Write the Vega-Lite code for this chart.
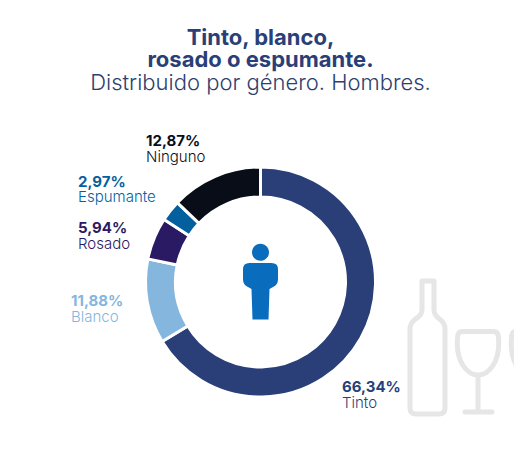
{
"$schema":"https://vega.github.io/schema/vega-lite/v6.json",
"autosize":{"type":"none"},
"padding":{"left":7,"top":95,"right":0,"bottom":0},
"width":507,"height":374,
"background":"white",
"view":{"stroke":null},
"title":{"text":["Tinto, blanco,","rosado o espumante."],"subtitle":"Distribuido por género. Hombres.","anchor":"middle","font":"Inter","fontSize":22,"fontWeight":700,"color":"#2a3f78","lineHeight":22,"subtitleFont":"Inter","subtitleFontSize":22,"subtitleFontWeight":300,"subtitleColor":"#2e3f6e","subtitlePadding":1,"offset":0},
"data":{"values":[
{"cat":"Tinto","rank":1,"value":66.34,"label":"66,34%"},
{"cat":"Blanco","rank":2,"value":11.88,"label":"11,88%"},
{"cat":"Rosado","rank":3,"value":5.94,"label":"5,94%"},
{"cat":"Espumante","rank":4,"value":2.97,"label":"2,97%"},
{"cat":"Ninguno","rank":5,"value":12.87,"label":"12,87%"}
]},
"transform":[
{"stack":"value","sort":[{"field":"rank","order":"ascending"}],"groupby":[],"as":["a0","a1"]},
{"calculate":"(datum.a0+datum.a1)/2","as":"mid"}
],
"encoding":{
"color":{"field":"cat","type":"nominal","legend":null,"scale":{"domain":["Tinto","Blanco","Rosado","Espumante","Ninguno"],"range":["#2a3f78","#85b6dd","#2a1a64","#045f9e","#080d18"]}}
},
"layer":[
{"data":{"values":[{"item":"botella y copas"}]},
 "mark":{"type":"point","size":40000,"filled":false,"stroke":"#e6e6e6","strokeWidth":5,"opacity":1,"strokeJoin":"round","strokeCap":"round",
 "shape":"M1.615 -0.01 L1.735 -0.01 L1.735 0.28 Q1.735 0.33 1.79 0.37 Q1.845 0.41 1.845 0.47 L1.845 1.26 Q1.845 1.32 1.785 1.32 L1.555 1.32 Q1.495 1.32 1.495 1.26 L1.495 0.47 Q1.495 0.41 1.55 0.37 Q1.615 0.33 1.615 0.28 Z M2.02 0.495 L2.33 0.495 Q2.38 0.495 2.38 0.56 C2.40 0.80 2.28 0.93 2.175 0.93 C2.07 0.93 1.95 0.80 1.97 0.56 Q1.97 0.495 2.02 0.495 Z M2.175 0.93 L2.175 1.30 M2.045 1.30 L2.315 1.30 M2.62 0.495 L2.56 0.495 Q2.51 0.495 2.51 0.56 C2.49 0.8 2.6 0.93 2.7 0.93"},
 "encoding":{"color":{"value":"#e6e6e6"}}},
{"data":{"values":[{"item":"persona"}]},
 "mark":{"type":"point","size":40000,"filled":true,"opacity":1,"strokeWidth":0,
 "shape":"M-0.085 -0.297 A0.085 0.085 0 1 1 0.085 -0.297 A0.085 0.085 0 1 1 -0.085 -0.297 Z M-0.11 -0.19 L0.11 -0.19 Q0.175 -0.19 0.175 -0.13 L0.175 -0.03 Q0.175 0.03 0.125 0.05 L0.09 0.07 L0.08 0.375 L-0.08 0.375 L-0.09 0.07 L-0.125 0.05 Q-0.175 0.03 -0.175 -0.03 L-0.175 -0.13 Q-0.175 -0.19 -0.11 -0.19 Z"},
 "encoding":{"color":{"value":"#0a6cbc"}}},
{"mark":{"type":"arc","outerRadius":115,"innerRadius":85,"stroke":"white","strokeWidth":3},
 "encoding":{"theta":{"field":"a0","type":"quantitative","stack":null,"scale":{"domain":[0,100]}},"theta2":{"field":"a1"}}},

{"transform":[{"filter":"datum.cat==='Tinto'"}],"mark":{"type":"text","font":"Inter","fontSize":15,"fontWeight":700,"align":"left","baseline":"alphabetic","radius":114,"dx":-17.8,"dy":54.5},
 "encoding":{"theta":{"field":"mid","type":"quantitative","stack":null,"scale":{"domain":[0,100]}},"text":{"field":"label"}}},
{"transform":[{"filter":"datum.cat==='Tinto'"}],"mark":{"type":"text","font":"Inter","fontSize":15,"fontWeight":300,"align":"left","baseline":"alphabetic","radius":114,"dx":-17.8,"dy":70},
 "encoding":{"theta":{"field":"mid","type":"quantitative","stack":null,"scale":{"domain":[0,100]}},"text":{"field":"cat"}}},
{"transform":[{"filter":"datum.cat==='Blanco'"}],"mark":{"type":"text","font":"Inter","fontSize":15,"fontWeight":700,"align":"left","baseline":"alphabetic","radius":114,"dx":-77.2,"dy":5.1},
 "encoding":{"theta":{"field":"mid","type":"quantitative","stack":null,"scale":{"domain":[0,100]}},"text":{"field":"label"}}},
{"transform":[{"filter":"datum.cat==='Blanco'"}],"mark":{"type":"text","font":"Inter","fontSize":15,"fontWeight":300,"align":"left","baseline":"alphabetic","radius":114,"dx":-77.2,"dy":20.6},
 "encoding":{"theta":{"field":"mid","type":"quantitative","stack":null,"scale":{"domain":[0,100]}},"text":{"field":"cat"}}},
{"transform":[{"filter":"datum.cat==='Rosado'"}],"mark":{"type":"text","font":"Inter","fontSize":15,"fontWeight":700,"align":"left","baseline":"alphabetic","radius":114,"dx":-77,"dy":-5.3},
 "encoding":{"theta":{"field":"mid","type":"quantitative","stack":null,"scale":{"domain":[0,100]}},"text":{"field":"label"}}},
{"transform":[{"filter":"datum.cat==='Rosado'"}],"mark":{"type":"text","font":"Inter","fontSize":15,"fontWeight":300,"align":"left","baseline":"alphabetic","radius":114,"dx":-77,"dy":10.2},
 "encoding":{"theta":{"field":"mid","type":"quantitative","stack":null,"scale":{"domain":[0,100]}},"text":{"field":"cat"}}},
{"transform":[{"filter":"datum.cat==='Espumante'"}],"mark":{"type":"text","font":"Inter","fontSize":15,"fontWeight":700,"align":"left","baseline":"alphabetic","radius":114,"dx":-93,"dy":-24.8},
 "encoding":{"theta":{"field":"mid","type":"quantitative","stack":null,"scale":{"domain":[0,100]}},"text":{"field":"label"}}},
{"transform":[{"filter":"datum.cat==='Espumante'"}],"mark":{"type":"text","font":"Inter","fontSize":15,"fontWeight":300,"align":"left","baseline":"alphabetic","radius":114,"dx":-93,"dy":-9.3},
 "encoding":{"theta":{"field":"mid","type":"quantitative","stack":null,"scale":{"domain":[0,100]}},"text":{"field":"cat"}}},
{"transform":[{"filter":"datum.cat==='Ninguno'"}],"mark":{"type":"text","font":"Inter","fontSize":15,"fontWeight":700,"align":"left","baseline":"alphabetic","radius":114,"dx":-69.6,"dy":-30.7},
 "encoding":{"theta":{"field":"mid","type":"quantitative","stack":null,"scale":{"domain":[0,100]}},"text":{"field":"label"}}},
{"transform":[{"filter":"datum.cat==='Ninguno'"}],"mark":{"type":"text","font":"Inter","fontSize":15,"fontWeight":300,"align":"left","baseline":"alphabetic","radius":114,"dx":-69.6,"dy":-15.2},
 "encoding":{"theta":{"field":"mid","type":"quantitative","stack":null,"scale":{"domain":[0,100]}},"text":{"field":"cat"}}}
]
}
